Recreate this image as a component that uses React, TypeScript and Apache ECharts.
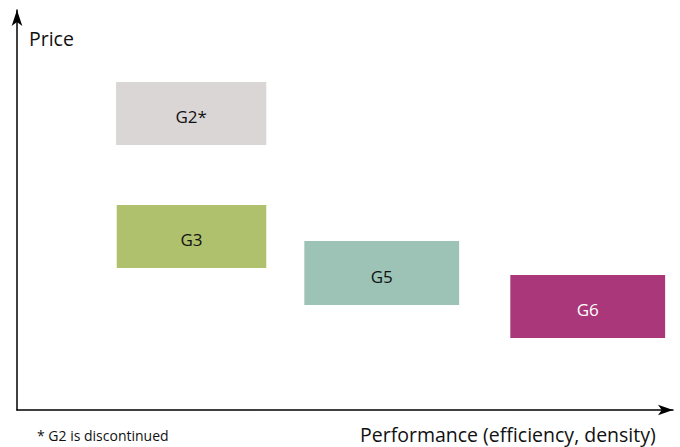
import React, { useEffect, useRef } from "react";
import * as echarts from "echarts";

const labels = ["G2*", "G3", "G5", "G6"];
const xStart = [15.1, 15.2, 43.8, 75.2];
const xEnd = [38.0, 38.0, 67.4, 98.8];
const yBottom = [66.25, 35.5, 26.25, 18.0];
const yTop = [82.0, 51.25, 42.25, 33.75];
const colors = ["#dbd6d6", "#afc16c", "#9cc3b6", "#aa3779"];
const textColors = ["#111111", "#111111", "#111111", "#ffffff"];

const yAxisName = "Price";
const xAxisName = "Performance (efficiency, density)";
const footnote = "* G2 is discontinued";

const FONT = "'Open Sans', 'Noto Sans', sans-serif";

export default function App() {
  const ref = useRef<HTMLDivElement>(null);
  useEffect(() => {
    if (!ref.current) return;
    const chart = echarts.init(ref.current, undefined, { renderer: "svg" });
    const data = labels.map((l, i) => [xStart[i], xEnd[i], yBottom[i], yTop[i], l, i]);
    chart.setOption({
      animation: false,
      grid: { left: 17, right: 7, top: 10, bottom: 37 },
      xAxis: {
        type: "value",
        min: 0,
        max: 100,
        axisLine: {
          show: true,
          symbol: ["none", "arrow"],
          symbolSize: [8, 15],
          lineStyle: { color: "#000", width: 1.5 },
        },
        axisTick: { show: false },
        axisLabel: { show: false },
        splitLine: { show: false },
      },
      yAxis: {
        type: "value",
        min: 0,
        max: 100,
        axisLine: {
          show: true,
          symbol: ["none", "arrow"],
          symbolSize: [8, 16],
          lineStyle: { color: "#000", width: 1.5 },
        },
        axisTick: { show: false },
        axisLabel: { show: false },
        splitLine: { show: false },
      },
      series: [
        {
          type: "custom",
          data,
          encode: { x: [0, 1], y: [2, 3] },
          renderItem: (params: any, api: any) => {
            const idx = api.value(5);
            const p0 = api.coord([api.value(0), api.value(3)]);
            const p1 = api.coord([api.value(1), api.value(2)]);
            return {
              type: "rect",
              shape: { x: p0[0], y: p0[1], width: p1[0] - p0[0], height: p1[1] - p0[1] },
              style: { fill: colors[idx] },
              textContent: {
                style: {
                  text: labels[idx],
                  fill: textColors[idx],
                  fontSize: 17,
                  fontFamily: FONT,
                },
              },
              textConfig: { position: "inside", offset: [0, 3] },
            };
          },
        },
      ],
      graphic: [
        {
          type: "text",
          left: 29,
          top: 28,
          style: { text: yAxisName, fontSize: 19.5, fontFamily: FONT, fill: "#111" },
        },
        {
          type: "text",
          left: 360,
          top: 424,
          style: { text: xAxisName, fontSize: 19.5, fontFamily: FONT, fill: "#111" },
        },
        {
          type: "text",
          left: 37,
          top: 428,
          style: { text: footnote, fontSize: 14, fontFamily: FONT, fill: "#111" },
        },
      ],
    });
    return () => chart.dispose();
  }, []);
  return (
    <div
      ref={ref}
      style={{ position: "fixed", left: 0, top: 0, width: 680, height: 447, background: "#fff" }}
    />
  );
}
